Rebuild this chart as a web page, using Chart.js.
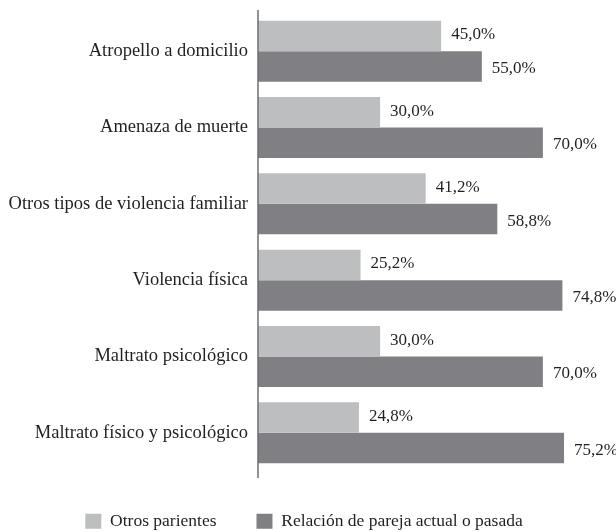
<!DOCTYPE html>
<html>
<head>
<meta charset="utf-8">
<script src="https://cdn.jsdelivr.net/npm/chart.js@4"></script>
<style>
  html, body { margin: 0; padding: 0; background: #fff; }
  #wrap { width: 616px; height: 532px; }
</style>
</head>
<body>
<div id="wrap"><canvas id="myChart"></canvas></div>
<script>
// Data
const categories = [
  'Atropello a domicilio',
  'Amenaza de muerte',
  'Otros tipos de violencia familiar',
  'Violencia física',
  'Maltrato psicológico',
  'Maltrato físico y psicológico'
];
const otrosParientes = [45.0, 30.0, 41.2, 25.2, 30.0, 24.8];
const relacionPareja = [55.0, 70.0, 58.8, 74.8, 70.0, 75.2];
const seriesNames = ['Otros parientes', 'Relación de pareja actual o pasada'];

const FONT = "'Liberation Serif', 'Times New Roman', serif";
const TEXT = '#231f20';

// value labels to the right of each bar
const valueLabels = {
  id: 'valueLabels',
  afterDatasetsDraw(chart) {
    const ctx = chart.ctx;
    ctx.save();
    ctx.font = '17px ' + FONT;
    ctx.fillStyle = TEXT;
    ctx.textAlign = 'left';
    ctx.textBaseline = 'middle';
    chart.data.datasets.forEach((ds, i) => {
      chart.getDatasetMeta(i).data.forEach((bar, j) => {
        const txt = ds.data[j].toFixed(1).replace('.', ',') + '%';
        ctx.fillText(txt, bar.x + 10, bar.y + (i === 1 ? 2 : -1));
      });
    });
    ctx.restore();
  }
};

// vertical axis line, a bit longer than the plot area
const axisLine = {
  id: 'axisLine',
  afterDraw(chart) {
    const ctx = chart.ctx;
    const x = chart.scales.x.getPixelForValue(0);
    ctx.save();
    ctx.strokeStyle = '#6d6e71';
    ctx.lineWidth = 1.5;
    ctx.beginPath();
    ctx.moveTo(x, chart.chartArea.top - 3);
    ctx.lineTo(x, chart.chartArea.bottom + 7);
    ctx.stroke();
    ctx.restore();
  }
};

const ctx = document.getElementById('myChart').getContext('2d');
const myChart = new Chart(ctx, {
  type: 'bar',
  data: {
    labels: categories,
    datasets: [{
      label: seriesNames[0],
      data: otrosParientes,
      backgroundColor: '#bdbec0',
      categoryPercentage: 0.8,
      barPercentage: 1.0
    }, {
      label: seriesNames[1],
      data: relacionPareja,
      backgroundColor: '#808084',
      categoryPercentage: 0.8,
      barPercentage: 1.0
    }]
  },
  options: {
    indexAxis: 'y',
    responsive: true,
    maintainAspectRatio: false,
    animation: false,
    layout: { padding: { top: 13, right: 8, left: 0, bottom: -8 } },
    scales: {
      x: {
        min: 0,
        max: 86,
        grid: { display: false },
        border: { display: false },
        ticks: { display: false },
        afterFit(scale) { scale.height = 1.5; }
      },
      y: {
        grid: { display: false, drawTicks: false },
        border: { display: false },
        ticks: {
          color: TEXT,
          padding: 10,
          font: { family: FONT, size: 18.5 }
        },
        afterFit(scale) {
          scale.width = 258;
          scale.paddingTop = 0;
          scale.paddingBottom = 0;
        }
      }
    },
    plugins: {
      legend: {
        display: true,
        position: 'bottom',
        labels: {
          boxWidth: 16,
          boxHeight: 15,
          padding: 40,
          color: TEXT,
          font: { family: FONT, size: 17.5 }
        }
      },
      title: { display: false },
      tooltip: { enabled: false }
    }
  },
  plugins: [valueLabels, axisLine]
});
</script>
</body>
</html>
